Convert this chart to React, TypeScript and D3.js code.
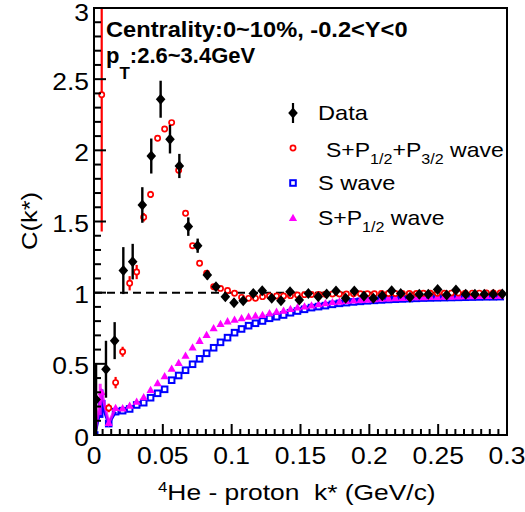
import React from 'react';
import * as d3 from 'd3';

// ---------- Data ----------
const kData = [0.0015,0.0087,0.0150,0.0213,0.0281,0.0351,0.0416,0.0484,0.0552,0.0620,0.0685,0.0753,0.0823,0.0886,0.0954,0.1017,0.1084,0.1157,0.1222,0.1291,0.1358,0.1424,0.1491,0.1557,0.1629,0.1690,0.1758,0.1828,0.1891,0.1961,0.2029,0.2094,0.2162,0.2228,0.2295,0.2363,0.2428,0.2496,0.2562,0.2629,0.2700,0.2767,0.2835,0.2900,0.2966];
const cData = [0.25,0.462,0.663,1.155,1.218,1.616,1.96,2.359,2.078,1.89,1.464,1.33,1.124,1.042,0.972,0.93,0.944,0.995,1.014,0.96,0.944,1.007,0.949,0.995,0.972,0.991,1.012,0.96,1.012,0.977,0.96,0.979,1.014,0.995,0.967,0.988,0.988,1.023,0.984,1.019,0.988,0.988,0.988,0.988,0.991];
const eData = [0.25,0.2,0.13,0.165,0.125,0.125,0.123,0.13,0.1,0.085,0.065,0.05,0.03,0.025,0.02,0.02,0.015,0.015,0.015,0.015,0.015,0.015,0.015,0.015,0.015,0.015,0.015,0.015,0.015,0.015,0.015,0.015,0.015,0.015,0.015,0.015,0.015,0.015,0.015,0.015,0.015,0.015,0.015,0.015,0.015];

const kModel = [0.0005,0.0056,0.0107,0.0157,0.0208,0.0259,0.0310,0.0361,0.0411,0.0462,0.0513,0.0564,0.0615,0.0665,0.0716,0.0767,0.0818,0.0869,0.0919,0.0970,0.1021,0.1072,0.1123,0.1173,0.1224,0.1275,0.1326,0.1377,0.1427,0.1478,0.1529,0.1580,0.1631,0.1681,0.1732,0.1783,0.1834,0.1885,0.1935,0.1986,0.2037,0.2088,0.2139,0.2189,0.2240,0.2291,0.2342,0.2393,0.2443,0.2494,0.2545,0.2596,0.2647,0.2697,0.2748,0.2799,0.2850,0.2901,0.2951];

// S+P1/2+P3/2 wave (starts at kModel[1])
const cFull = [2.39,0.19,0.368,0.585,1.066,1.145,1.53,1.69,2.085,2.15,2.195,1.86,1.558,1.33,1.207,1.136,1.042,1.03,1.015,0.996,0.967,0.96,0.96,0.972,0.977,0.977,0.977,0.979,0.984,0.986,0.987,0.988,0.989,0.99,0.99,0.991,0.992,0.992,0.993,0.993,0.994,0.994,0.994,0.995,0.995,0.995,0.996,0.996,0.996,0.996,0.997,0.997,0.997,0.997,0.997,0.998,0.998,0.998];
const eFull = [0.96,0.03,0.04,0.035,0.05,0.05,0.03,0.025,0.02,0.015,0.015,0.02,0.01,0.01,0.01,0.01,0.01,0.01,0.01,0.01,0.01,0.01,0.01,0.01,0.01,0.01,0.01,0.01,0.01,0.01,0.01,0.01,0.01,0.01,0.01,0.01,0.01,0.01,0.01,0.01,0.01,0.01,0.01,0.01,0.01,0.01,0.01,0.01,0.01,0.01,0.01,0.01,0.01,0.01,0.01,0.01,0.01,0.01];

// S wave
const cS = [0,0.22,0.08,0.164,0.171,0.183,0.211,0.227,0.262,0.293,0.321,0.385,0.418,0.455,0.497,0.535,0.574,0.613,0.651,0.684,0.719,0.745,0.768,0.785,0.801,0.82,0.831,0.843,0.859,0.871,0.883,0.895,0.902,0.909,0.918,0.925,0.93,0.935,0.939,0.943,0.946,0.949,0.952,0.954,0.956,0.958,0.96,0.962,0.963,0.964,0.965,0.966,0.967,0.968,0.969,0.97,0.971,0.971,0.972];

// S+P1/2 wave
const cSP = [0,0.3,0.085,0.19,0.187,0.205,0.234,0.265,0.316,0.363,0.412,0.465,0.505,0.556,0.614,0.661,0.703,0.75,0.78,0.798,0.81,0.82,0.831,0.838,0.843,0.855,0.866,0.873,0.885,0.895,0.902,0.909,0.918,0.925,0.933,0.937,0.941,0.945,0.948,0.951,0.954,0.957,0.959,0.961,0.963,0.965,0.967,0.968,0.969,0.97,0.971,0.972,0.973,0.974,0.975,0.976,0.977,0.977,0.978];

const xTicks = [0, 0.05, 0.1, 0.15, 0.2, 0.25, 0.3];
const xTickLabels = ['0', '0.05', '0.1', '0.15', '0.2', '0.25', '0.3'];
const yTicks = [0, 0.5, 1, 1.5, 2, 2.5, 3];
const yTickLabels = ['0', '0.5', '1', '1.5', '2', '2.5', '3'];

// ---------- Layout ----------
const W = 525, H = 512;
const M = { left: 94, right: 507, top: 8, bottom: 435 };
const FONT = "'Liberation Sans', Arial, Helvetica, sans-serif";

function STxt({ x, y, sx = 1, rot = 0, anchor = 'start', size = 22, weight = 'normal', children }: any) {
  return (
    <g transform={`translate(${x},${y})${rot ? ` rotate(${rot})` : ''} scale(${sx},1)`}>
      <text textAnchor={anchor} fontSize={size} fontWeight={weight} fontFamily={FONT} fill="#000" style={{ whiteSpace: 'pre' }}>
        {children}
      </text>
    </g>
  );
}

const diamond = (cx: number, cy: number) => `M${cx},${cy - 5.5}L${cx + 4.8},${cy}L${cx},${cy + 5.5}L${cx - 4.8},${cy}Z`;
const tri = (cx: number, cy: number) => `M${cx},${cy - 4.3}L${cx + 4.1},${cy + 3}L${cx - 4.1},${cy + 3}Z`;

export default function App() {
  const x = d3.scaleLinear().domain([0, 0.3]).range([M.left, M.right]);
  const y = d3.scaleLinear().domain([0, 3]).range([M.bottom, M.top]);

  const xMinor = d3.range(0, 0.3 + 1e-9, 0.05 / 8);
  const yMinor = d3.range(0, 3 + 1e-9, 0.1);

  const lowLine = d3.line<number>().x((i) => x(kModel[i])).y((i) => y(cS[i]));
  const lowLineSP = d3.line<number>().x((i) => x(kModel[i])).y((i) => y(cSP[i]));
  const lowIdx = [0, 1, 2, 3];

  const redK = kModel.slice(1);

  return (
    <svg width={W} height={H} style={{ position: 'absolute', left: 0, top: 0, background: '#fff' }}>
      <defs>
        <clipPath id="plotClip">
          <rect x={M.left} y={M.top} width={M.right - M.left} height={M.bottom - M.top} />
        </clipPath>
      </defs>
      <rect x={0} y={0} width={W} height={H} fill="#fff" />

      <g clipPath="url(#plotClip)">
        {/* dashed line at 1 */}
        <line x1={M.left} x2={M.right} y1={y(1)} y2={y(1)} stroke="#000" strokeWidth={2} strokeDasharray="8,5" />

        {/* S wave (blue open squares) */}
        <path d={lowLine(lowIdx) || ''} fill="none" stroke="#0000ff" strokeWidth={3} />
        <line x1={x(kModel[1])} x2={x(kModel[1])} y1={y(0.12)} y2={y(0.32)} stroke="#0000ff" strokeWidth={3.5} />
        {kModel.map((k, i) => (
          <rect key={'s' + i} x={x(k) - 2.8} y={y(cS[i]) - 2.8} width={5.6} height={5.6} fill="none" stroke="#0000ff" strokeWidth={2} />
        ))}

        {/* S+P1/2 wave (magenta triangles) */}
        <path d={lowLineSP(lowIdx) || ''} fill="none" stroke="#ff00ff" strokeWidth={3} opacity={0.8} />
        <line x1={x(kModel[1]) - 1.5} x2={x(kModel[1]) - 1.5} y1={y(0.14)} y2={y(0.36)} stroke="#ff00ff" strokeWidth={3} opacity={0.8} />
        {kModel.map((k, i) => (
          <path key={'p' + i} d={tri(x(k), y(cSP[i]))} fill="#ff00ff" />
        ))}

        {/* S+P1/2+P3/2 wave (red open circles with error bars) */}
        {redK.map((k, i) => (
          <line key={'re' + i} x1={x(k)} x2={x(k)} y1={y(cFull[i] - eFull[i])} y2={y(cFull[i] + eFull[i])} stroke="#ff0000" strokeWidth={2.2} />
        ))}
        {redK.map((k, i) => (
          <circle key={'r' + i} cx={x(k)} cy={y(cFull[i])} r={2.6} fill="#fff" stroke="#ff0000" strokeWidth={1.7} />
        ))}

        {/* Data (black diamonds with error bars) */}
        {kData.map((k, i) => (
          <line key={'de' + i} x1={x(k)} x2={x(k)} y1={y(cData[i] - eData[i])} y2={y(cData[i] + eData[i])} stroke="#000" strokeWidth={2.4} />
        ))}
        {kData.map((k, i) => (
          <path key={'d' + i} d={diamond(x(k), y(cData[i]))} fill="#000" />
        ))}
      </g>

      {/* Frame */}
      <rect x={M.left} y={M.top} width={M.right - M.left} height={M.bottom - M.top} fill="none" stroke="#000" strokeWidth={2} />

      {/* Y ticks */}
      {yMinor.map((v, i) => {
        const major = Math.abs(v / 0.5 - Math.round(v / 0.5)) < 1e-6;
        return <line key={'yt' + i} x1={M.left} x2={M.left + (major ? 12 : 7)} y1={y(v)} y2={y(v)} stroke="#000" strokeWidth={2} />;
      })}
      {/* X ticks */}
      {xMinor.map((v, i) => {
        const major = Math.abs(v / 0.05 - Math.round(v / 0.05)) < 1e-6;
        return <line key={'xt' + i} x1={x(v)} x2={x(v)} y1={M.bottom} y2={M.bottom - (major ? 11 : 6)} stroke="#000" strokeWidth={2} />;
      })}

      {/* Tick labels */}
      {yTicks.map((v, i) => (
        <STxt key={'yl' + i} x={89} y={Math.max(y(v) + 10.5, 21)} anchor="end" size={23} sx={1.15}>{yTickLabels[i]}</STxt>
      ))}
      {xTicks.map((v, i) => (
        <STxt key={'xl' + i} x={x(v)} y={463.5} anchor="middle" size={23} sx={1.15}>{xTickLabels[i]}</STxt>
      ))}

      {/* Axis titles */}
      <STxt x={158} y={500} size={22} sx={1.2}>
        <tspan fontSize={14} dy={-8.5}>4</tspan>
        <tspan dy={8.5}>{'He - proton  k* (GeV/c)'}</tspan>
      </STxt>
      <STxt x={37} y={221} rot={-90} anchor="middle" size={22} sx={1.16}>C(k*)</STxt>

      {/* Header text */}
      <STxt x={106} y={36.7} size={22} sx={1.075} weight="bold">Centrality:0~10%, -0.2&lt;Y&lt;0</STxt>
      <STxt x={106} y={63} size={22} sx={1.0} weight="bold">
        <tspan>p</tspan>
        <tspan fontSize={17} dy={16}>T</tspan>
        <tspan dy={-16}>:2.6~3.4GeV</tspan>
      </STxt>

      {/* Legend */}
      <line x1={293} x2={293} y1={103} y2={123} stroke="#000" strokeWidth={2.2} />
      <path d={diamond(293, 113)} fill="#000" />
      <STxt x={318} y={120} size={20} sx={1.18}>Data</STxt>

      <circle cx={293} cy={148} r={2.6} fill="#fff" stroke="#ff0000" strokeWidth={1.7} />
      <STxt x={326} y={156.7} size={20} sx={1.15}>
        <tspan>S+P</tspan>
        <tspan fontSize={14} dy={7}>1/2</tspan>
        <tspan dy={-7}>+P</tspan>
        <tspan fontSize={14} dy={7}>3/2</tspan>
        <tspan dy={-7}>{' wave'}</tspan>
      </STxt>

      <rect x={290.2} y={180.2} width={5.6} height={5.6} fill="none" stroke="#0000ff" strokeWidth={2} />
      <STxt x={318} y={190} size={20} sx={1.18}>S wave</STxt>

      <path d={tri(293, 218)} fill="#ff00ff" />
      <STxt x={318} y={225} size={20} sx={1.15}>
        <tspan>S+P</tspan>
        <tspan fontSize={14} dy={7}>1/2</tspan>
        <tspan dy={-7}>{' wave'}</tspan>
      </STxt>
    </svg>
  );
}
